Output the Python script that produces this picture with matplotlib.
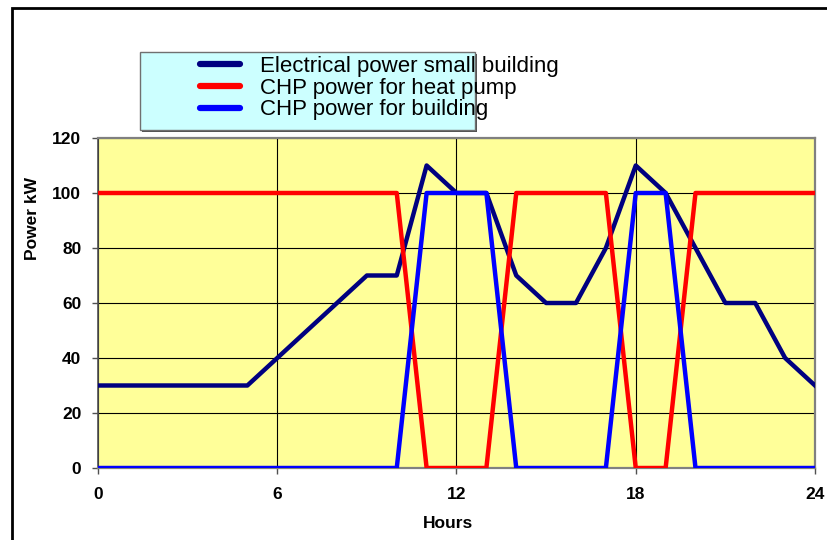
import matplotlib.pyplot as plt
from matplotlib.patches import Rectangle

hours = list(range(25))
elec_small_building = [30, 30, 30, 30, 30, 30, 40, 50, 60, 70, 70, 110, 100,
                       100, 70, 60, 60, 80, 110, 100, 80, 60, 60, 40, 30]
chp_heat_pump = [100, 100, 100, 100, 100, 100, 100, 100, 100, 100, 100, 0, 0,
                 0, 100, 100, 100, 100, 0, 0, 100, 100, 100, 100, 100]
chp_building = [0, 0, 0, 0, 0, 0, 0, 0, 0, 0, 0, 100, 100,
                100, 0, 0, 0, 0, 100, 100, 0, 0, 0, 0, 0]
labels = ['Electrical power small building', 'CHP power for heat pump',
          'CHP power for building']

plt.rcParams['font.family'] = ['Liberation Sans', 'DejaVu Sans']

W, H = 828, 540
fig = plt.figure(figsize=(W / 100, H / 100), dpi=100)
ax = fig.add_axes([98 / W, 1 - 468 / H, (815 - 98) / W, (468 - 138) / H])

# outer frame of the chart object
fig.patches.append(Rectangle((12 / W, -0.05), 1.0, 1.05 - 8 / H, transform=fig.transFigure,
                             fill=False, edgecolor='black', linewidth=2))

# legend box with a small shadow
fig.patches.append(Rectangle((142 / W, 1 - 132 / H), 335 / W, 78 / H, transform=fig.transFigure,
                             facecolor='#505050', edgecolor='none'))
fig.patches.append(Rectangle((140 / W, 1 - 130 / H), 335 / W, 78 / H, transform=fig.transFigure,
                             facecolor='#CCFFFF', edgecolor='#707070', linewidth=1))

ax.set_facecolor('#FFFF99')
ax.plot(hours, elec_small_building, color='#000080', linewidth=3.2, label=labels[0], zorder=3)
ax.plot(hours, chp_heat_pump, color='#FF0000', linewidth=3.2, label=labels[1], zorder=3)
ax.plot(hours, chp_building, color='#0000FF', linewidth=3.2, label=labels[2], zorder=4)

ax.set_xlim(0, 24)
ax.set_ylim(0, 120)
ax.set_xticks([0, 6, 12, 18, 24])
ax.set_yticks(range(0, 121, 20))
ax.grid(True, color='black', linewidth=0.8)
ax.set_axisbelow(True)
for s in ax.spines.values():
    s.set_color('#808080')
    s.set_linewidth(1.6)
ax.spines['left'].set_color('#505050')
ax.spines['left'].set_linewidth(1.2)
ax.tick_params(colors='black', labelsize=12.5, length=4, width=1, color='#505050')
ax.tick_params(axis='x', pad=10)
ax.tick_params(axis='y', pad=8)
for t in ax.get_xticklabels() + ax.get_yticklabels():
    t.set_fontweight('bold')

ax.set_xlabel('Hours', fontsize=12.5, fontweight='bold')
ax.set_ylabel('Power kW', fontsize=12.5, fontweight='bold')
ax.xaxis.set_label_coords(0.488, -0.145)
ax.yaxis.set_label_coords(-0.081, 0.755)

leg = fig.legend(loc='upper left', bbox_to_anchor=(200 / W, 1 - 56 / H),
                 fontsize=16, frameon=False, labelspacing=0.03, handlelength=1.8,
                 borderaxespad=0, borderpad=0, handletextpad=0.9)
for h in leg.legend_handles:
    h.set_linewidth(4.5)
    h.set_solid_capstyle('round')

fig.savefig('out.png', dpi=100)
